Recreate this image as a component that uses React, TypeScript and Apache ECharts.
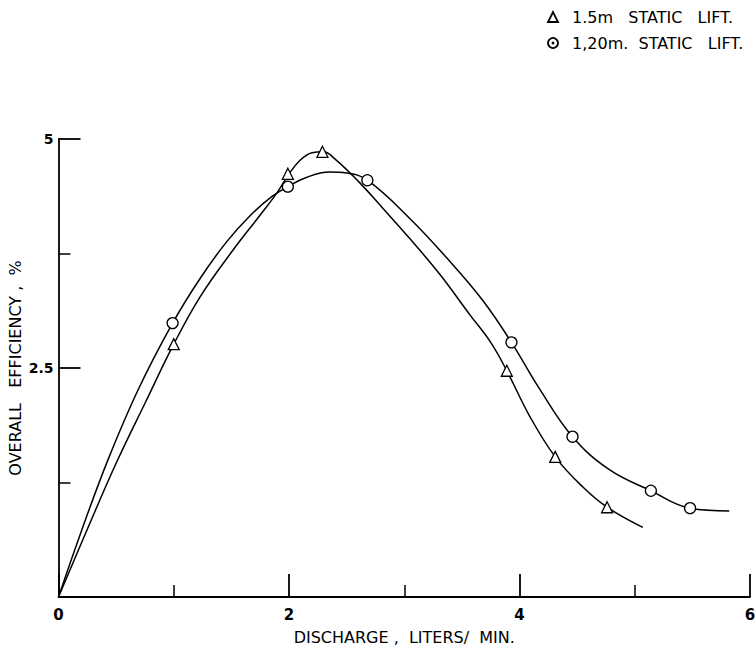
import React, { useEffect, useRef } from "react";
import * as echarts from "echarts";

// Measured points (discharge L/min, efficiency %)
const lift15Points: [number, number][] = [
  [1.0, 2.76], [1.99, 4.62], [2.29, 4.86], [3.89, 2.47], [4.31, 1.53], [4.76, 0.98],
];
const lift120Points: [number, number][] = [
  [0.99, 2.99], [1.99, 4.48], [2.68, 4.55], [3.93, 2.78], [4.46, 1.75], [5.14, 1.16], [5.48, 0.97],
];

// Fitted curves as drawn on the figure
const lift15Curve: [number, number][] = [
  [0, 0], [0.25, 0.74], [0.5, 1.46], [0.76, 2.14], [1.0, 2.76], [1.23, 3.28], [1.51, 3.78],
  [1.75, 4.17], [1.9, 4.42], [1.99, 4.6], [2.09, 4.76], [2.2, 4.85], [2.3, 4.86], [2.4, 4.78],
  [2.6, 4.54], [2.81, 4.25], [3.05, 3.91], [3.31, 3.52], [3.57, 3.08], [3.75, 2.78],
  [3.89, 2.47], [4.09, 1.97], [4.31, 1.53], [4.55, 1.2], [4.76, 0.98], [5.07, 0.76],
];
const lift120Curve: [number, number][] = [
  [0, 0], [0.21, 0.76], [0.43, 1.5], [0.69, 2.26], [0.99, 2.99], [1.23, 3.48], [1.46, 3.88],
  [1.66, 4.16], [1.85, 4.37], [1.99, 4.48], [2.15, 4.58], [2.35, 4.64], [2.5, 4.63],
  [2.68, 4.55], [3.05, 4.13], [3.37, 3.7], [3.68, 3.24], [3.93, 2.78], [4.17, 2.28],
  [4.46, 1.75], [4.78, 1.39], [5.14, 1.16], [5.48, 0.97], [5.82, 0.94],
];

const legendLabels = ["1.5m   STATIC   LIFT.", "1,20m.  STATIC   LIFT."];
const xTitle = "DISCHARGE ,  LITERS/  MIN.";
const yTitle = "OVERALL   EFFICIENCY ,  %";

const FONT = "'DejaVu Sans', sans-serif";

export default function App() {
  const ref = useRef<HTMLDivElement>(null);
  useEffect(() => {
    if (!ref.current) return;
    const chart = echarts.init(ref.current, null, { renderer: "svg" });
    const markerStyle = { color: "#fff", borderColor: "#000", borderWidth: 1.3, opacity: 1 };
    chart.setOption({
      animation: false,
      backgroundColor: "#fff",
      textStyle: { fontFamily: FONT, color: "#000" },
      grid: { left: 58.5, right: 6, top: 139, bottom: 54, outerBoundsMode: "none", containLabel: false },
      xAxis: {
        type: "value",
        min: 0,
        max: 6,
        interval: 2,
        name: xTitle,
        nameLocation: "middle",
        nameGap: 32,
        nameMoveOverlap: false,
        nameTextStyle: { fontFamily: FONT, fontSize: 16, color: "#000" },
        axisLine: { show: true, lineStyle: { color: "#000", width: 1.8 } },
        axisTick: { show: true, inside: true, length: 23, lineStyle: { color: "#000", width: 1.8 } },
        minorTick: { show: true, splitNumber: 2, length: 12, lineStyle: { color: "#000", width: 1.5 } },
        axisLabel: { fontFamily: FONT, fontSize: 15, fontWeight: "bold", color: "#000", margin: 10 },
        splitLine: { show: false },
      },
      yAxis: {
        type: "value",
        min: 0,
        max: 5,
        interval: 2.5,
        name: yTitle,
        nameLocation: "middle",
        nameGap: 35,
        nameMoveOverlap: false,
        nameRotate: 90,
        nameTextStyle: { fontFamily: FONT, fontSize: 16, color: "#000" },
        axisLine: { show: true, lineStyle: { color: "#000", width: 1.8 } },
        axisTick: { show: true, inside: true, length: 22, lineStyle: { color: "#000", width: 1.8 } },
        minorTick: { show: true, splitNumber: 2, length: 12, lineStyle: { color: "#000", width: 1.5 } },
        axisLabel: {
          fontFamily: FONT,
          fontSize: 14,
          fontWeight: "bold",
          color: "#000",
          margin: 5,
          formatter: (v: number) => (v === 0 ? "" : String(v)),
        },
        splitLine: { show: false },
      },
      graphic: [
        {
          type: "polygon",
          shape: { points: [[548, 22], [558, 22], [553, 12]] },
          style: { fill: "#fff", stroke: "#000", lineWidth: 1.8 },
        },
        {
          type: "circle",
          shape: { cx: 553, cy: 43, r: 5 },
          style: { fill: "#fff", stroke: "#000", lineWidth: 1.8 },
        },
        {
          type: "circle",
          shape: { cx: 553, cy: 43, r: 1.4 },
          style: { fill: "#000" },
        },
        {
          type: "text",
          x: 572,
          y: 17,
          style: {
            text: legendLabels[0],
            fontFamily: FONT,
            fontSize: 16,
            fill: "#000",
            verticalAlign: "middle",
          },
        },
        {
          type: "text",
          x: 572,
          y: 43,
          style: {
            text: legendLabels[1],
            fontFamily: FONT,
            fontSize: 16,
            fill: "#000",
            verticalAlign: "middle",
          },
        },
      ],
      series: [
        {
          name: "1.5m curve",
          type: "line",
          data: lift15Curve,
          smooth: 0.4,
          showSymbol: false,
          silent: true,
          lineStyle: { color: "#000", width: 1.5 },
          z: 2,
        },
        {
          name: "1.20m curve",
          type: "line",
          data: lift120Curve,
          smooth: 0.4,
          showSymbol: false,
          silent: true,
          lineStyle: { color: "#000", width: 1.5 },
          z: 2,
        },
        {
          name: legendLabels[0],
          type: "scatter",
          data: lift15Points,
          symbol: "triangle",
          symbolSize: 11,
          itemStyle: markerStyle,
          z: 3,
        },
        {
          name: legendLabels[1],
          type: "scatter",
          data: lift120Points,
          symbol: "circle",
          symbolSize: 11,
          itemStyle: markerStyle,
          z: 3,
        },
      ],
    });
    return () => chart.dispose();
  }, []);
  return (
    <div
      ref={ref}
      style={{ position: "absolute", left: 0, top: 0, width: 756, height: 651 }}
    />
  );
}
